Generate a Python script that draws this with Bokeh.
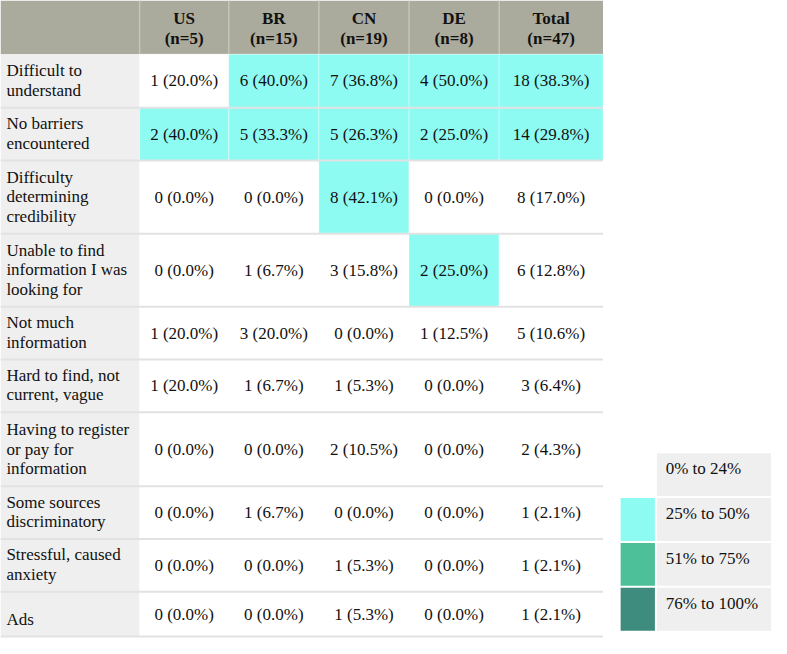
from bokeh.plotting import figure
from bokeh.models import Range1d, ColumnDataSource
from bokeh.core.properties import value
from bokeh.embed import file_html
from bokeh.resources import INLINE

# ---------------- data ----------------
categories = ["Difficult to\nunderstand", "No barriers\nencountered",
              "Difficulty\ndetermining\ncredibility",
              "Unable to find\ninformation I was\nlooking for",
              "Not much\ninformation", "Hard to find, not\ncurrent, vague",
              "Having to register\nor pay for\ninformation",
              "Some sources\ndiscriminatory", "Stressful, caused\nanxiety", "Ads"]
groups = ["US", "BR", "CN", "DE", "Total"]
group_n = [5, 15, 19, 8, 47]
us_counts = [1, 2, 0, 0, 1, 1, 0, 0, 0, 0]
us_pct = [20.0, 40.0, 0.0, 0.0, 20.0, 20.0, 0.0, 0.0, 0.0, 0.0]
br_counts = [6, 5, 0, 1, 3, 1, 0, 1, 0, 0]
br_pct = [40.0, 33.3, 0.0, 6.7, 20.0, 6.7, 0.0, 6.7, 0.0, 0.0]
cn_counts = [7, 5, 8, 3, 0, 1, 2, 0, 1, 1]
cn_pct = [36.8, 26.3, 42.1, 15.8, 0.0, 5.3, 10.5, 0.0, 5.3, 5.3]
de_counts = [4, 2, 0, 2, 1, 0, 0, 0, 0, 0]
de_pct = [50.0, 25.0, 0.0, 25.0, 12.5, 0.0, 0.0, 0.0, 0.0, 0.0]
total_counts = [18, 14, 8, 6, 5, 3, 2, 1, 1, 1]
total_pct = [38.3, 29.8, 17.0, 12.8, 10.6, 6.4, 4.3, 2.1, 2.1, 2.1]
legend_labels = ["0% to 24%", "25% to 50%", "51% to 75%", "76% to 100%"]
legend_lower = [0, 25, 51, 76]

# ---------------- layout / style ----------------
col_edges = [0, 142, 233, 325, 417, 509, 615]
row_edges = [0, 55, 110, 164, 239, 314, 368, 422, 498, 552, 606, 652]
legend_tops = [464, 510, 556, 602]
legend_h = 44
sw_left, sw_right, lbox_left, lbox_right = 633, 668, 670, 787
scale_colors = ["#FFFFFF", "#8EFBF2", "#4DBF99", "#3E8C7E"]
HEADER_BG = "#ABAB9D"
LABEL_BG = "#EFEFEF"
BORDER = "#E2E2E2"
FONT = value("Liberation Serif")
FS = "17px"
LH = 1.03
W, H = 787, 654

p = figure(width=771, height=638, x_range=Range1d(0, W), y_range=Range1d(H, 0),
           output_backend="svg", toolbar_location=None, min_border=0)
p.axis.visible = False
p.xgrid.visible = False
p.ygrid.visible = False
p.outline_line_color = None
p.background_fill_color = "white"
p.border_fill_color = "white"


def color_for(pct):
    c = scale_colors[0]
    for lo, col in zip(legend_lower, scale_colors):
        if pct >= lo:
            c = col
    return c


series_counts = [us_counts, br_counts, cn_counts, de_counts, total_counts]
series_pct = [us_pct, br_pct, cn_pct, de_pct, total_pct]

# header
hl, hr, ht, hb, htxt, hx, hy = [], [], [], [], [], [], []
for i in range(len(groups) + 1):
    hl.append(col_edges[i]); hr.append(col_edges[i + 1]); ht.append(row_edges[0]); hb.append(row_edges[1])
p.quad(left=hl, right=hr, top=ht, bottom=hb, fill_color=HEADER_BG, line_color=None)
for i, g in enumerate(groups):
    htxt.append(f"{g}\n(n={group_n[i]})")
    hx.append((col_edges[i + 1] + col_edges[i + 2]) / 2)
    hy.append((row_edges[0] + row_edges[1]) / 2 + 1)
p.text(x=hx, y=hy, text=htxt, text_font=FONT, text_font_style="bold", text_font_size=FS,
       text_align="center", text_baseline="middle", text_color="#111111", text_line_height=LH)
# header separators
p.segment(x0=col_edges[1:-1], x1=col_edges[1:-1], y0=[row_edges[0]] * 5, y1=[row_edges[1]] * 5,
          line_color="#C4C4B8", line_width=1.5)

# label column
nrows = len(categories)
p.quad(left=[col_edges[0]] * nrows, right=[col_edges[1]] * nrows,
       top=row_edges[1:-1], bottom=row_edges[2:], fill_color=LABEL_BG, line_color=None)
p.text(x=[6] * nrows, y=[b - 8 for b in row_edges[2:]], text=categories, text_font=FONT,
       text_font_size=FS, text_align="left", text_baseline="bottom",
       text_color="#111111", text_line_height=LH)

# data cells
cl, cr, ct, cb, cc, tx, ty, tt = [], [], [], [], [], [], [], []
for j in range(len(groups)):
    for i in range(nrows):
        cl.append(col_edges[j + 1]); cr.append(col_edges[j + 2])
        ct.append(row_edges[i + 1]); cb.append(row_edges[i + 2])
        cc.append(color_for(series_pct[j][i]))
        tx.append((col_edges[j + 1] + col_edges[j + 2]) / 2)
        ty.append((row_edges[i + 1] + row_edges[i + 2]) / 2)
        tt.append(f"{series_counts[j][i]} ({series_pct[j][i]:.1f}%)")
src = ColumnDataSource(dict(l=cl, r=cr, t=ct, b=cb, c=cc))
p.quad(left="l", right="r", top="t", bottom="b", fill_color="c", line_color="white",
       line_alpha=0.35, line_width=1, source=src)
p.text(x=tx, y=ty, text=tt, text_font=FONT, text_font_size=FS, text_align="center",
       text_baseline="middle", text_color="#111111")

# row borders
p.segment(x0=[0] * (nrows), x1=[col_edges[-1]] * nrows, y0=row_edges[2:], y1=row_edges[2:],
          line_color=BORDER, line_width=2)

# legend
p.quad(left=[lbox_left] * 4, right=[lbox_right] * 4, top=legend_tops,
       bottom=[t + legend_h for t in legend_tops], fill_color=LABEL_BG, line_color=None)
p.quad(left=[sw_left] * 4, right=[sw_right] * 4, top=legend_tops,
       bottom=[t + legend_h for t in legend_tops], fill_color=scale_colors, line_color=None)
p.text(x=[lbox_left + 9] * 4, y=[t + 16 for t in legend_tops], text=legend_labels, text_font=FONT,
       text_font_size=FS, text_align="left", text_baseline="middle", text_color="#111111")

open("out.html", "w").write(file_html(p, INLINE))
